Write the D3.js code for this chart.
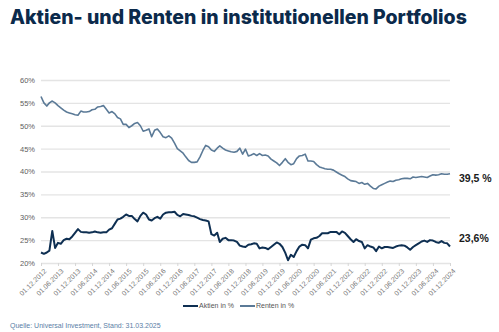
<!DOCTYPE html>
<html>
<head>
<meta charset="utf-8">
<script src="https://cdn.jsdelivr.net/npm/d3@7"></script>
<style>
  html, body { margin: 0; padding: 0; background: #fff; }
  svg { display: block; }
</style>
</head>
<body>
<div id="chart"></div>
<script>
// Monthly shares of equities and bonds, Dec 2012 – Dec 2024 (in %)
const firstMonth = "2012-12-01";
const lastMonth = "2024-12-01";

const aktien = [
  22.3, 22.0, 22.3, 22.7, 27.0, 23.3, 24.4, 24.2, 25.0, 25.3, 25.2, 25.8,
  26.6, 27.4, 26.8, 26.7, 26.7, 26.6, 26.7, 26.9, 26.7, 26.6, 26.7, 26.7,
  27.3, 27.6, 28.6, 29.5, 29.7, 30.1, 30.6, 30.3, 30.3, 29.6, 29.1, 30.3,
  31.0, 30.6, 29.5, 29.3, 29.8, 30.1, 29.7, 30.6, 31.0, 31.1, 31.1, 31.2,
  30.5, 30.2, 30.7, 30.6, 30.5, 30.3, 30.2, 29.9, 29.6, 29.4, 29.3, 29.1,
  26.3, 26.0, 26.6, 24.6, 25.3, 25.5, 25.0, 25.0, 24.9, 24.6, 23.8, 23.6,
  23.5, 24.0, 24.1, 24.3, 24.2, 23.2, 23.4, 23.3, 23.0, 23.5, 24.0, 24.5,
  24.2, 23.5, 22.2, 20.6, 21.8, 21.3, 22.6, 23.6, 24.0, 23.9, 23.2, 25.1,
  25.4, 25.5, 25.9, 26.5, 26.5, 26.5, 26.8, 26.8, 26.8, 26.3, 26.9, 26.6,
  25.9, 25.2, 24.6, 25.2, 24.8, 24.6, 23.2, 23.9, 23.6, 23.4, 22.6, 23.6,
  23.2, 23.5, 23.5, 23.4, 23.3, 23.6, 23.8, 23.9, 23.8, 23.4, 22.9, 23.5,
  23.9, 24.3, 24.7, 24.9, 24.6, 25.0, 24.9, 24.6, 24.4, 24.8, 24.4, 24.3,
  23.6
];

const renten = [
  56.4, 55.0, 54.3, 55.0, 55.4, 55.0, 54.4, 53.9, 53.4, 53.0, 52.8, 52.6,
  52.4, 52.3, 53.2, 53.0, 53.0, 53.1, 53.5, 53.6, 54.1, 54.2, 54.4, 53.6,
  52.8, 53.1, 52.6, 51.8, 51.5, 50.3, 50.3, 49.6, 50.0, 50.5, 50.7, 50.0,
  48.8, 49.0, 49.3, 47.6, 49.0, 49.3, 48.5, 47.6, 47.4, 47.8, 47.3, 46.2,
  45.0, 44.5, 44.0, 43.2, 42.4, 42.0, 42.0, 42.1, 43.2, 44.6, 45.7, 45.4,
  44.7, 44.4, 45.1, 45.6, 45.1, 44.7, 44.5, 44.3, 44.2, 44.4, 45.1, 43.8,
  44.9, 43.4, 43.6, 43.9, 43.5, 43.9, 43.5, 43.6, 43.4, 42.7, 42.3, 41.9,
  41.3, 42.0, 42.8, 42.0, 41.5, 41.7, 42.8, 43.4, 43.5, 43.8, 42.3, 42.3,
  42.2, 41.5, 41.0, 40.8, 40.6, 40.5, 40.5, 40.3, 39.9, 39.5, 39.2, 38.9,
  38.4, 38.0, 37.9, 37.8, 37.4, 37.6, 37.2, 37.4, 36.8, 36.3, 36.2, 36.8,
  37.1, 37.4, 37.7, 37.9, 37.8, 38.1, 38.2, 38.4, 38.5, 38.5, 38.4, 38.8,
  38.7, 38.8, 38.9, 38.8, 38.7, 39.0, 39.3, 39.2, 39.3, 39.5, 39.4, 39.4,
  39.5
];

const yTicks = [20, 25, 30, 35, 40, 45, 50, 55, 60];
const tickEveryMonths = 6;

const seriesNames = ["Aktien in %", "Renten in %"];
const seriesColors = ["#0e2f52", "#5b7a97"];
const endLabels = ["23,6%", "39,5 %"];

const titleText = "Aktien- und Renten in institutionellen Portfolios";
const sourceText = "Quelle: Universal Investment, Stand: 31.03.2025";

// ---- layout ----
const W = 499, H = 332;
const plot = { left: 41, right: 450, top: 80, bottom: 263 };

const parse = d3.timeParse("%Y-%m-%d");
const months = d3.timeMonth.range(parse(firstMonth), d3.timeMonth.offset(parse(lastMonth), 1));

const x = d3.scaleTime()
  .domain([parse(firstMonth), parse(lastMonth)])
  .range([plot.left, plot.right]);

const y = d3.scaleLinear()
  .domain([20, 60])
  .range([plot.bottom, plot.top]);

const svg = d3.select("#chart").append("svg")
  .attr("width", W).attr("height", H);

// title
const title = svg.append("text")
  .attr("x", 10).attr("y", 24)
  .attr("font-family", "Inter, 'Noto Sans', sans-serif")
  .attr("font-weight", 800)
  .attr("font-size", 20)
  .attr("fill", "#0b2a4b")
  .text(titleText);
{
  const targetW = 457;
  const w = title.node().getComputedTextLength();
  title.attr("font-size", 20 * targetW / w);
}

// horizontal grid + y labels
const yAxis = d3.axisLeft(y)
  .tickValues(yTicks)
  .tickSize(-(plot.right - plot.left))
  .tickPadding(6)
  .tickFormat(d => d + "%");

const gy = svg.append("g")
  .attr("transform", `translate(${plot.left},0)`)
  .call(yAxis);
gy.select(".domain").remove();
gy.selectAll(".tick line").attr("stroke", "#e4e4e4").attr("stroke-width", 1.3);
gy.selectAll(".tick text")
  .attr("font-family", "'Liberation Sans', Arial, sans-serif")
  .attr("font-size", 7.5)
  .attr("fill", "#5e5e5e");

// x axis: ticks every six months, rotated labels
const tickDates = months.filter((d, i) => i % tickEveryMonths === 0);
const xAxis = d3.axisBottom(x)
  .tickValues(tickDates)
  .tickSize(3)
  .tickPadding(2)
  .tickFormat(d3.timeFormat("%d.%m.%Y"));

const gx = svg.append("g")
  .attr("transform", `translate(0,${plot.bottom})`)
  .call(xAxis);
gx.select(".domain").remove();
gx.selectAll(".tick line").attr("stroke", "#d6d6d6");
gx.selectAll(".tick text")
  .attr("font-family", "'Liberation Sans', Arial, sans-serif")
  .attr("font-size", 7)
  .attr("fill", "#777")
  .attr("text-anchor", "end")
  .attr("dy", 0)
  .attr("transform", "translate(2,5) rotate(-45)");

// lines
const line = d3.line()
  .x((d, i) => x(months[i]))
  .y(d => y(d))
  .curve(d3.curveLinear);

const series = [aktien, renten];
const widths = [2, 1.6];

series.forEach((vals, k) => {
  svg.append("path")
    .datum(vals)
    .attr("fill", "none")
    .attr("stroke", seriesColors[k])
    .attr("stroke-width", widths[k])
    .attr("stroke-linejoin", "round")
    .attr("d", line);
});

// end-of-line value labels
const labelOffsets = [-8, 5];
series.forEach((vals, k) => {
  svg.append("text")
    .attr("x", plot.right + 9)
    .attr("y", y(vals[vals.length - 1]) + labelOffsets[k])
    .attr("dy", "0.35em")
    .attr("font-family", "'Liberation Sans', Arial, sans-serif")
    .attr("font-weight", 700)
    .attr("font-size", 10.5)
    .attr("fill", "#1a1a1a")
    .text(endLabels[k]);
});

// legend
const legendX = [183, 240];
const legend = svg.append("g").attr("transform", "translate(0,306)");
seriesNames.forEach((name, k) => {
  legend.append("line")
    .attr("x1", legendX[k]).attr("x2", legendX[k] + 15)
    .attr("y1", 0).attr("y2", 0)
    .attr("stroke", seriesColors[k])
    .attr("stroke-width", 2);
  legend.append("text")
    .attr("x", legendX[k] + 16)
    .attr("y", 0)
    .attr("dy", "0.35em")
    .attr("font-family", "'Liberation Sans', Arial, sans-serif")
    .attr("font-size", 7)
    .attr("fill", "#555")
    .text(name);
});

// source note
svg.append("text")
  .attr("x", 10).attr("y", 328)
  .attr("font-family", "'Liberation Sans', Arial, sans-serif")
  .attr("font-size", 7)
  .attr("fill", "#5a7ea6")
  .text(sourceText);
</script>
</body>
</html>
